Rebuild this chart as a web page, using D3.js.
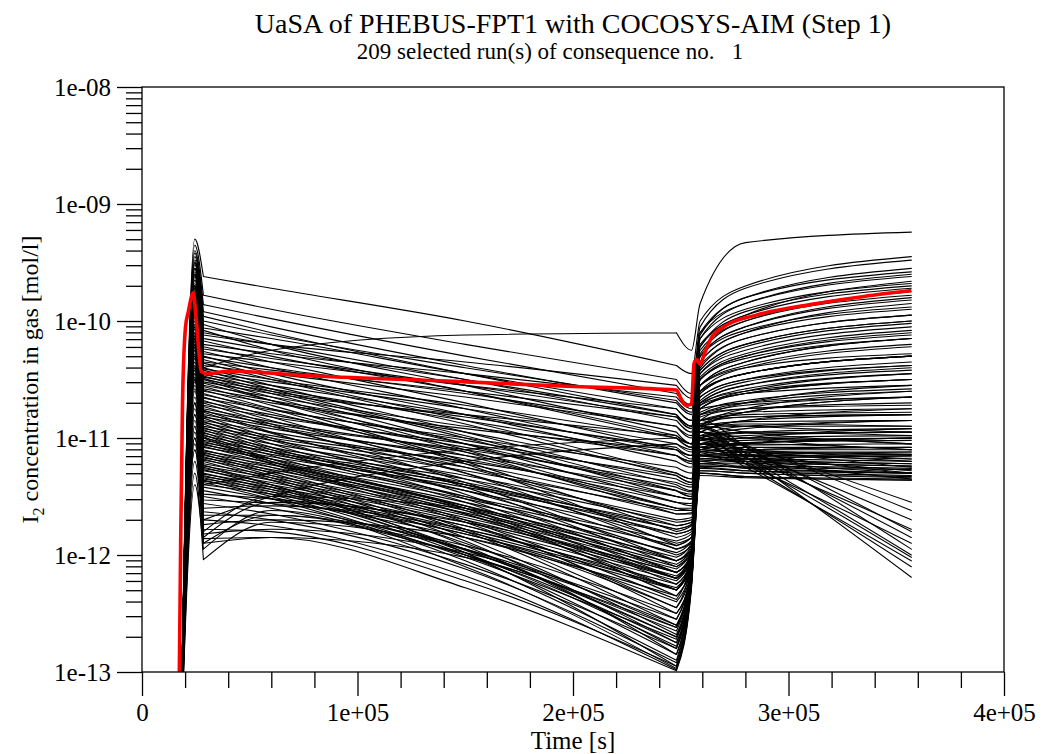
<!DOCTYPE html>
<html>
<head>
<meta charset="utf-8">
<script src="https://cdn.jsdelivr.net/npm/d3@7"></script>
<style>
  body { margin: 0; background: #fff; }
  text { font-family: "Liberation Serif", "Times New Roman", serif; fill: #000; }
</style>
</head>
<body>
<svg id="chart" width="1042" height="754"></svg>
<script>
// text
const titleText = "UaSA of PHEBUS-FPT1 with COCOSYS-AIM (Step 1)";
const subtitleText = "209 selected run(s) of consequence no.   1";
const xLabelText = "Time [s]";

// axis ticks
const xMajorTicks = [0, 1e5, 2e5, 3e5, 4e5];
const xTickLabels = ["0", "1e+05", "2e+05", "3e+05", "4e+05"];
const yMajorTicks = [1e-8, 1e-9, 1e-10, 1e-11, 1e-12, 1e-13];
const yTickLabels = ["1e-08", "1e-09", "1e-10", "1e-11", "1e-12", "1e-13"];

// every run is sampled at the same times (s); values are log10 of the concentration
const runTimes = [17500, 24500, 28500, 60000, 150000, 248000, 255000, 259000, 280000, 357000];
const runStartLog = -14; // all runs start below the axis at runTimes[0]
// smooth pieces between the sharp corners (indices into runTimes)
const pieceBreaks = [[0, 2], [2, 5], [5, 9]];
const runs = [
  // upper runs
  [-9.30, -9.62, -9.72, -10.00, -10.38, -10.45, -10.00, -9.70, -9.45],
  [-9.35, -9.78, -9.90, -10.20, -10.50, -10.62, -10.05, -9.72, -9.48],
  [-9.40, -9.86, -9.98, -10.30, -10.62, -10.72, -10.10, -9.80, -9.55],
  [-9.42, -9.92, -10.05, -10.38, -10.70, -10.80, -10.15, -9.85, -9.60],
  [-9.45, -9.96, -10.10, -10.45, -10.80, -10.90, -10.20, -9.95, -9.66],
  [-9.50, -10.00, -10.12, -10.40, -10.68, -10.78, -10.12, -9.80, -9.58],
  [-9.48, -10.03, -10.20, -10.55, -10.95, -11.05, -10.30, -10.05, -9.80],
  [-9.55, -10.06, -10.15, -10.45, -10.75, -10.85, -10.22, -9.92, -9.70],
  [-9.52, -10.08, -10.25, -10.60, -11.00, -11.08, -10.35, -10.10, -9.85],
  [-9.60, -10.10, -10.20, -10.50, -10.85, -10.95, -10.25, -10.00, -9.78],
  [-9.80, -10.40, -10.25, -10.12, -10.10, -10.25, -9.85, -9.33, -9.24],
  [-9.50, -10.12, -10.20, -10.35, -10.55, -10.66, -10.10, -9.85, -9.62],
  [-9.55, -10.15, -10.25, -10.50, -10.80, -10.90, -10.28, -10.00, -9.75],
  [-9.60, -10.17, -10.30, -10.60, -10.98, -11.05, -10.40, -10.15, -9.95],
  [-9.50, -10.20, -10.28, -10.45, -10.65, -10.75, -10.15, -9.90, -9.68],
  [-9.62, -10.22, -10.35, -10.70, -11.10, -11.15, -10.50, -10.30, -10.10],
  [-9.58, -10.24, -10.32, -10.55, -10.82, -10.90, -10.30, -10.05, -9.82],
  [-9.65, -10.26, -10.40, -10.75, -11.15, -11.20, -10.55, -10.35, -10.15],
  [-9.55, -10.28, -10.35, -10.55, -10.75, -10.85, -10.22, -9.95, -9.72],
  [-9.70, -10.30, -10.45, -10.80, -11.20, -11.25, -10.60, -10.45, -10.30],
  [-9.60, -10.31, -10.40, -10.62, -10.90, -10.98, -10.35, -10.10, -9.90],
  [-9.68, -10.33, -10.48, -10.85, -11.30, -11.35, -10.65, -10.50, -10.35],
  [-9.62, -10.35, -10.42, -10.60, -10.82, -10.92, -10.30, -10.08, -9.88],
  [-9.72, -10.36, -10.50, -10.88, -11.32, -11.38, -10.70, -10.60, -10.50],
  [-9.65, -10.38, -10.45, -10.65, -10.90, -11.00, -10.38, -10.15, -9.95],
  [-9.75, -10.40, -10.55, -10.95, -11.40, -11.45, -10.72, -10.62, -10.55],
  [-9.70, -10.41, -10.50, -10.72, -11.00, -11.08, -10.42, -10.20, -10.00],
  [-9.78, -10.42, -10.58, -10.98, -11.45, -11.50, -10.75, -10.70, -10.65],
  [-9.70, -10.44, -10.52, -10.75, -11.05, -11.12, -10.45, -10.25, -10.05],
  [-9.80, -10.45, -10.60, -11.00, -11.50, -11.52, -10.80, -10.75, -10.72],
  [-9.72, -10.46, -10.55, -10.80, -11.10, -11.15, -10.50, -10.30, -10.12],
  [-9.82, -10.47, -10.62, -11.05, -11.55, -11.58, -10.85, -10.82, -10.80],
  [-9.75, -10.48, -10.58, -10.85, -11.15, -11.20, -10.55, -10.38, -10.20],
  [-9.85, -10.49, -10.65, -11.10, -11.60, -11.62, -10.88, -10.90, -10.95],
  [-9.78, -10.50, -10.60, -10.82, -11.08, -11.15, -10.48, -10.28, -10.08],
  [-9.80, -10.50, -10.68, -11.12, -11.65, -11.65, -10.90, -10.95, -11.05],
  // middle runs
  [-9.70, -10.52, -10.62, -10.80, -10.98, -11.05, -10.42, -10.20, -10.00],
  [-9.75, -10.53, -10.68, -11.05, -11.45, -11.50, -10.62, -10.45, -10.30],
  [-9.73, -10.55, -10.65, -10.90, -11.15, -11.22, -10.50, -10.32, -10.15],
  [-9.80, -10.56, -10.72, -11.20, -11.80, -11.75, -10.95, -11.00, -11.10],
  [-9.75, -10.58, -10.68, -10.95, -11.30, -11.35, -10.60, -10.40, -10.22],
  [-9.83, -10.59, -10.75, -11.22, -11.92, -11.85, -11.00, -11.10, -11.30],
  [-9.77, -10.60, -10.70, -10.92, -11.10, -11.18, -10.45, -10.22, -10.02],
  [-9.85, -10.62, -10.78, -11.15, -11.60, -11.62, -10.85, -10.78, -10.75],
  [-9.80, -10.63, -10.75, -11.02, -11.35, -11.40, -10.65, -10.50, -10.38],
  [-9.87, -10.65, -10.82, -11.30, -11.95, -11.88, -11.05, -11.10, -11.25],
  [-9.83, -10.66, -10.76, -11.00, -11.25, -11.30, -10.55, -10.35, -10.15],
  [-9.90, -10.68, -10.85, -11.25, -11.75, -11.72, -10.92, -10.88, -10.90],
  [-9.85, -10.69, -10.80, -11.08, -11.42, -11.46, -10.70, -10.55, -10.42],
  [-9.93, -10.70, -10.88, -11.38, -12.05, -11.95, -10.95, -11.07, -11.55],
  [-9.87, -10.72, -10.82, -11.05, -11.32, -11.38, -10.62, -10.45, -10.30],
  [-9.95, -10.73, -10.90, -11.30, -11.85, -11.80, -10.98, -10.95, -10.98],
  [-9.90, -10.75, -10.86, -11.12, -11.50, -11.52, -10.75, -10.62, -10.50],
  [-9.97, -10.76, -10.95, -11.42, -12.10, -11.98, -11.10, -11.15, -11.28],
  [-9.93, -10.77, -10.88, -11.10, -11.38, -11.42, -10.68, -10.52, -10.38],
  [-10.00, -10.78, -10.96, -11.35, -11.90, -11.85, -11.02, -11.00, -11.05],
  [-9.95, -10.80, -10.90, -11.18, -11.55, -11.56, -10.78, -10.68, -10.58],
  [-10.03, -10.81, -11.00, -11.48, -12.15, -12.00, -10.92, -11.06, -11.62],
  [-9.97, -10.82, -10.92, -11.15, -11.45, -11.48, -10.72, -10.58, -10.45],
  [-10.05, -10.83, -11.02, -11.40, -11.95, -11.90, -11.05, -11.05, -11.10],
  [-10.00, -10.85, -10.95, -11.22, -11.60, -11.60, -10.80, -10.72, -10.65],
  [-10.07, -10.86, -11.05, -11.52, -12.20, -12.02, -11.15, -11.22, -11.30],
  [-10.03, -10.87, -10.98, -11.20, -11.50, -11.52, -10.75, -10.62, -10.50],
  [-10.10, -10.88, -11.08, -11.45, -12.00, -11.92, -11.08, -11.10, -11.18],
  [-10.05, -10.90, -11.00, -11.25, -11.65, -11.64, -10.82, -10.75, -10.70],
  [-10.13, -10.91, -11.10, -11.55, -12.25, -12.05, -10.98, -11.12, -11.70],
  [-10.07, -10.92, -11.02, -11.28, -11.62, -11.62, -10.80, -10.70, -10.60],
  [-10.15, -10.93, -11.12, -11.50, -12.05, -11.95, -11.10, -11.12, -11.20],
  [-10.10, -10.94, -11.05, -11.32, -11.70, -11.68, -10.85, -10.80, -10.78],
  [-10.17, -10.95, -11.15, -11.60, -12.30, -12.08, -11.20, -11.25, -11.30],
  [-10.13, -10.96, -11.08, -11.35, -11.72, -11.70, -10.88, -10.82, -10.80],
  [-10.20, -10.97, -11.18, -11.58, -12.15, -12.00, -11.12, -11.18, -11.30],
  [-10.15, -10.98, -11.10, -11.38, -11.78, -11.74, -10.90, -10.86, -10.85],
  [-10.23, -10.99, -11.20, -11.62, -12.35, -12.10, -11.02, -11.17, -11.78],
  [-10.17, -11.00, -11.12, -11.40, -11.82, -11.78, -10.92, -10.90, -10.90],
  [-10.25, -11.00, -11.22, -11.65, -12.20, -12.05, -11.15, -11.20, -11.35],
  // lower runs
  [-10.05, -11.02, -11.12, -11.40, -11.75, -11.72, -10.95, -10.85, -10.80],
  [-10.15, -11.03, -11.18, -11.60, -12.20, -11.95, -11.15, -11.18, -11.22],
  [-10.10, -11.04, -11.14, -11.45, -11.82, -11.78, -10.98, -10.90, -10.85],
  [-10.20, -11.05, -11.20, -11.65, -12.30, -12.00, -11.10, -11.05, -11.00],
  [-10.12, -11.06, -11.16, -11.42, -11.78, -11.74, -10.92, -10.78, -10.65],
  [-10.22, -11.07, -11.22, -11.70, -12.38, -12.02, -11.22, -11.26, -11.30],
  [-10.15, -11.08, -11.18, -11.50, -11.88, -11.82, -11.00, -10.95, -10.92],
  [-10.25, -11.10, -11.25, -11.72, -12.45, -12.05, -11.05, -11.00, -10.92],
  [-10.18, -11.11, -11.21, -11.52, -11.92, -11.85, -11.02, -10.96, -10.95],
  [-10.28, -11.12, -11.28, -11.78, -12.55, -12.08, -10.95, -11.16, -12.00],
  [-10.20, -11.13, -11.23, -11.55, -11.98, -11.88, -11.05, -11.00, -10.98],
  [-10.30, -11.14, -11.30, -11.80, -12.60, -12.10, -11.25, -11.28, -11.32],
  [-10.22, -11.15, -11.25, -11.58, -12.02, -11.90, -11.06, -11.02, -11.00],
  [-10.32, -11.16, -11.32, -11.85, -12.68, -12.12, -11.05, -11.25, -12.05],
  [-10.25, -11.17, -11.27, -11.60, -12.05, -11.92, -11.08, -11.04, -11.02],
  [-10.35, -11.18, -11.34, -11.88, -12.75, -12.15, -10.85, -10.70, -10.55],
  [-10.28, -11.19, -11.29, -11.62, -12.08, -11.94, -11.10, -11.06, -11.05],
  [-10.38, -11.20, -11.36, -11.92, -12.80, -12.15, -11.18, -11.20, -11.24],
  [-10.30, -11.22, -11.32, -11.64, -12.10, -11.95, -11.12, -11.08, -11.08],
  [-10.40, -11.23, -11.40, -11.98, -12.95, -12.20, -10.90, -11.16, -12.19],
  [-10.32, -11.24, -11.34, -11.66, -12.12, -11.96, -11.14, -11.10, -11.10],
  [-10.42, -11.25, -11.40, -11.90, -12.62, -12.10, -11.28, -11.30, -11.34],
  [-10.35, -11.26, -11.36, -11.68, -12.15, -11.98, -11.15, -11.12, -11.12],
  [-10.45, -11.27, -11.42, -11.95, -12.70, -12.12, -10.90, -10.78, -10.65],
  [-10.38, -11.28, -11.38, -11.70, -12.18, -12.00, -11.16, -11.15, -11.16],
  [-10.48, -11.30, -11.44, -11.98, -12.78, -12.15, -11.12, -11.10, -11.08],
  [-10.40, -11.31, -11.40, -11.72, -12.20, -12.00, -11.18, -11.16, -11.18],
  [-10.50, -11.32, -11.46, -11.96, -12.65, -12.10, -10.75, -10.60, -10.45],
  [-10.42, -11.33, -11.42, -11.75, -12.22, -12.02, -11.20, -11.18, -11.20],
  [-10.52, -11.34, -11.48, -12.00, -12.85, -12.18, -11.00, -11.22, -12.10],
  [-10.45, -11.35, -11.44, -11.78, -12.25, -12.04, -11.22, -11.20, -11.22],
  [-10.55, -11.36, -11.50, -12.02, -12.72, -12.12, -10.95, -10.85, -10.75],
  [-10.48, -11.37, -11.46, -11.80, -12.28, -12.05, -11.22, -11.22, -11.24],
  [-10.58, -11.38, -11.52, -12.05, -12.90, -12.20, -11.30, -11.33, -11.36],
  [-10.50, -11.40, -11.48, -11.82, -12.30, -12.06, -11.24, -11.24, -11.26],
  // lowest runs
  [-10.60, -11.42, -11.52, -11.85, -12.35, -12.08, -11.20, -11.18, -11.15],
  [-10.65, -11.45, -11.56, -11.95, -12.55, -12.12, -10.90, -10.75, -10.60],
  [-10.70, -11.48, -11.52, -11.72, -12.15, -12.00, -10.85, -11.07, -11.95],
  [-10.70, -11.50, -11.60, -12.00, -12.62, -12.15, -11.26, -11.28, -11.30],
  [-10.75, -11.53, -11.56, -11.82, -12.40, -12.10, -11.00, -10.92, -10.85],
  [-10.80, -11.56, -11.65, -12.08, -12.80, -12.20, -11.08, -11.04, -11.00],
  [-10.80, -11.60, -11.58, -11.78, -12.30, -12.05, -10.95, -11.13, -11.85],
  [-10.85, -11.63, -11.70, -12.12, -12.92, -12.22, -11.30, -11.33, -11.35],
  [-10.90, -11.66, -11.66, -11.92, -12.50, -12.15, -10.70, -10.55, -10.40],
  [-10.90, -11.70, -11.75, -12.18, -12.98, -12.25, -11.15, -11.14, -11.12],
  [-10.95, -11.74, -11.70, -11.85, -12.45, -12.12, -11.05, -11.22, -11.90],
  [-11.00, -11.78, -11.80, -12.22, -12.95, -12.25, -11.32, -11.34, -11.36],
  [-11.00, -11.82, -11.78, -11.98, -12.60, -12.18, -11.10, -11.05, -11.00],
  [-11.05, -11.86, -11.85, -12.28, -12.99, -12.28, -11.24, -11.25, -11.27],
  [-11.10, -11.90, -11.85, -12.02, -12.70, -12.20, -11.02, -10.98, -10.95],
  // runs with a dip after the peak
  [-11.30, -12.04, -11.72, -11.95, -12.85, -12.20, -11.28, -11.30, -11.33],
  [-11.10, -11.85, -11.55, -11.75, -12.50, -12.15, -10.90, -11.08, -11.80],
  [-11.40, -11.95, -11.62, -12.10, -12.97, -12.25, -11.18, -11.16, -11.14],
  [-11.00, -11.80, -11.50, -11.60, -12.15, -12.00, -11.15, -11.12, -11.14],
  [-11.20, -11.90, -11.66, -12.00, -12.75, -12.22, -11.00, -11.20, -12.02],
  // rising runs
  [-10.70, -11.70, -11.50, -11.20, -11.05, -11.10, -10.60, -10.45, -10.30],
  [-10.50, -11.40, -11.30, -11.10, -11.00, -11.05, -10.55, -10.40, -10.28]
];

// highlighted (red) run
const redTimes = [17300, 18000, 18800, 20200, 21500, 23800, 25000, 27500, 30000, 40000, 80000,
  150000, 200000, 248000, 250000, 252500, 255000, 256200, 257500, 259000, 261000, 264000,
  270000, 285000, 310000, 335000, 357000];
const redValues = [-13.05, -11.80, -10.70, -10.05, -9.92, -9.76, -9.95, -10.43, -10.45, -10.43, -10.47,
  -10.52, -10.56, -10.59, -10.66, -10.72, -10.71, -10.36, -10.33, -10.37, -10.28, -10.15,
  -10.05, -9.95, -9.86, -9.79, -9.74];

function createChart() {
  const svg = d3.select("#chart");
  const left = 142, right = 1004, top = 87, bottom = 672;

  const x = d3.scaleLinear().domain([0, 4e5]).range([left, right]);
  const y = d3.scaleLog().domain([1e-13, 1e-8]).range([bottom, top]);

  svg.append("clipPath").attr("id", "plotClip")
    .append("rect")
    .attr("x", left).attr("y", top)
    .attr("width", right - left).attr("height", bottom - top);

  const line = d3.line()
    .x(d => x(d[0]))
    .y(d => y(Math.pow(10, d[1])))
    .curve(d3.curveMonotoneX);

  const plot = svg.append("g").attr("clip-path", "url(#plotClip)");

  plot.selectAll("path.run")
    .data(runs)
    .join("path")
    .attr("class", "run")
    .attr("fill", "none")
    .attr("stroke", "#000")
    .attr("stroke-width", 1.1)
    .attr("stroke-linecap", "round")
    .attr("d", r => {
      const pts = [[runTimes[0], runStartLog]].concat(r.map((v, i) => [runTimes[i + 1], v]));
      return pieceBreaks.map(([a, b]) => line(pts.slice(a, b + 1))).join("");
    });

  plot.append("path")
    .attr("fill", "none")
    .attr("stroke", "#ff0000")
    .attr("stroke-width", 3.6)
    .attr("d", line(redTimes.map((t, i) => [t, redValues[i]])));

  // frame
  svg.append("rect")
    .attr("x", left).attr("y", top)
    .attr("width", right - left).attr("height", bottom - top)
    .attr("fill", "none").attr("stroke", "#000").attr("stroke-width", 1.3);

  // x axis: minor ticks then majors with labels
  const xMinor = d3.range(0, 400001, 20000).filter(v => v % 100000 !== 0);
  svg.append("g")
    .attr("transform", `translate(0,${bottom})`)
    .call(d3.axisBottom(x).tickValues(xMinor).tickSize(16).tickSizeOuter(0).tickFormat(""))
    .call(g => g.select(".domain").remove());

  svg.append("g")
    .attr("transform", `translate(0,${bottom})`)
    .call(d3.axisBottom(x).tickValues(xMajorTicks).tickSize(24).tickSizeOuter(0).tickPadding(7)
      .tickFormat((d, i) => xTickLabels[i]))
    .call(g => g.select(".domain").remove())
    .call(g => g.selectAll("text").attr("font-size", 25).attr("font-family", null));

  // y axis: log minor ticks then majors with labels
  const yMinor = [];
  yMajorTicks.slice(1).forEach(d => {
    for (let k = 2; k <= 9; k++) yMinor.push(d * k);
  });
  svg.append("g")
    .attr("transform", `translate(${left},0)`)
    .call(d3.axisLeft(y).tickValues(yMinor).tickSize(16).tickSizeOuter(0).tickFormat(""))
    .call(g => g.select(".domain").remove());

  svg.append("g")
    .attr("transform", `translate(${left},0)`)
    .call(d3.axisLeft(y).tickValues(yMajorTicks).tickSize(25).tickSizeOuter(0).tickPadding(6)
      .tickFormat((d, i) => yTickLabels[i]))
    .call(g => g.select(".domain").remove())
    .call(g => g.selectAll("text").attr("font-size", 25).attr("font-family", null));

  svg.selectAll(".tick line").attr("stroke", "#000").attr("stroke-width", 1.3);

  // titles
  const cx = (left + right) / 2;
  svg.append("text").attr("x", cx).attr("y", 33)
    .attr("text-anchor", "middle").attr("font-size", 28).text(titleText);
  svg.append("text").attr("x", cx - 23).attr("y", 59)
    .attr("text-anchor", "middle").attr("font-size", 23)
    .style("white-space", "pre").text(subtitleText);

  svg.append("text").attr("x", cx).attr("y", 749)
    .attr("text-anchor", "middle").attr("font-size", 25).text(xLabelText);

  const yl = svg.append("text")
    .attr("transform", `translate(38,${(top + bottom) / 2}) rotate(-90)`)
    .attr("text-anchor", "middle").attr("font-size", 24);
  yl.append("tspan").text("I");
  yl.append("tspan").attr("font-size", 16).attr("dy", 6).text("2");
  yl.append("tspan").attr("dy", -6).text(" concentration in gas [mol/l]");
}

createChart();
</script>
</body>
</html>
